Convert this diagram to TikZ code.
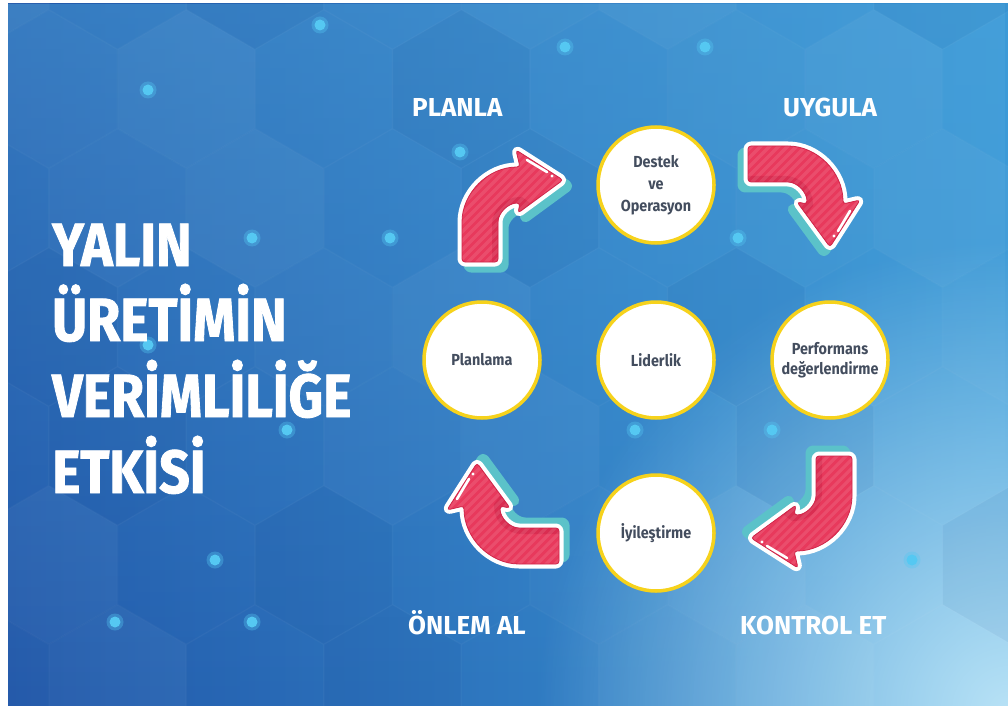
\documentclass[tikz,border=0pt]{standalone}
\usepackage{fontspec}
\setmainfont{Fira Sans}
\newfontfamily\titlefont{Fira Sans}[FakeStretch=0.88,FakeBold=1.4]
\newfontfamily\circfont{Fira Sans}[FakeStretch=0.9]
\usetikzlibrary{fadings}

\definecolor{bgleft}{HTML}{2157A9}
\definecolor{bgright}{HTML}{3C9AD7}
\definecolor{bglow}{HTML}{4FA6DD}
\definecolor{bgglow}{HTML}{B8E2F6}
\definecolor{hexdark}{HTML}{0B3A82}
\definecolor{arrowred}{HTML}{E8395C}
\definecolor{arrowdark}{HTML}{CF2448}
\definecolor{shadowteal}{HTML}{5BC2C9}
\definecolor{ringyellow}{HTML}{F6D21C}
\definecolor{inktext}{HTML}{434D5E}
\definecolor{dotcyan}{HTML}{55C8F2}

\tikzfading[name=glowfade, inner color=transparent!0, outer color=transparent!100]

% outline of one bent arrow (leg up, bend to the right, head pointing right)
\def\arrowpath{(462,262) -- (462,225) .. controls (462,193) and (488,167) .. (520,167)
  -- (516,150) -- (563,180) -- (518,213) -- (520,203)
  .. controls (508,203) and (498,213) .. (498,225) -- (498,262) -- cycle}

% #1 rotation about the centre, #2 extra shift, #3 stripe direction (+1/-1)
\newcommand\cyclearrow[3]{%
  \begin{scope}[shift={#2}, rotate around={#1:(656,360)}]
    \filldraw[shadowteal, line width=9, line join=round, arrowshape, shift={(6,6)}] \arrowpath;
    \filldraw[white, line width=9, line join=round, arrowshape] \arrowpath;
    \fill[arrowred, arrowshape] \arrowpath;
    \begin{scope}
      \clip[arrowshape] \arrowpath;
      \draw[arrowdark, line width=12, opacity=.55]
        (498,275) -- (498,225) .. controls (498,213) and (508,203) .. (520,203) -- (532,212);
      \foreach \k in {-240,-231,...,240}
        \draw[white, opacity=.10, line width=3.2]
          ({400+\k},{200-100*(#3)}) -- ++(200,{200*(#3)});
    \end{scope}
    \draw[arrowdark, line width=.8, arrowshape] \arrowpath;
    \draw[white, line width=2.6, line cap=round] (527,160) -- (547,172);
    \fill[white] (552,176) circle (1.7);
  \end{scope}}

\begin{document}
\begin{tikzpicture}[x=1pt, y=-1pt,
  arrowshape/.style={rounded corners=3},
  ringnode/.style={circle, draw=ringyellow, line width=3.5, fill=white,
    minimum size=116, inner sep=0, align=center, text=inktext,
    font=\circfont\bfseries\fontsize{16}{22}\selectfont},
  steplabel/.style={anchor=base west, inner sep=0, text=white,
    font=\bfseries\fontsize{26}{26}\selectfont},
  titleline/.style={anchor=base west, inner sep=0, text=white,
    font=\titlefont\bfseries\fontsize{61}{61}\selectfont},
  hexcell/.style={line width=1, draw=white, draw opacity=.025}]

\useasboundingbox (0,0) rectangle (1008,711);
\fill[white] (0,0) rectangle (1008,711);

% background panel
\begin{scope}
  \clip (8,4) rectangle (1008,705);
  \shade[left color=bgleft, right color=bgright] (8,4) rectangle (1008,705);
  \fill[bglow, opacity=.45, path fading=south] (8,4) rectangle (1008,705);
  \fill[bgglow, path fading=glowfade] (1008,711) circle (470);

  % hexagon pattern
  \foreach \j in {0,...,6} {
    \foreach \i in {0,...,8} {
      \pgfmathsetmacro\cx{-20+\i*137.5+mod(\j,2)*68.75}
      \pgfmathsetmacro\cy{-30+\j*119}
      \pgfmathtruncatemacro\pick{mod(\i*3+\j*2,5)}
      \ifcase\pick
        \filldraw[hexcell, fill=white, fill opacity=.04, shift={(\cx,\cy)}]
          (30:79) -- (90:79) -- (150:79) -- (210:79) -- (270:79) -- (330:79) -- cycle;
      \or
        \filldraw[hexcell, fill=hexdark, fill opacity=.06, shift={(\cx,\cy)}]
          (30:79) -- (90:79) -- (150:79) -- (210:79) -- (270:79) -- (330:79) -- cycle;
      \or
        \filldraw[hexcell, fill=white, fill opacity=.02, shift={(\cx,\cy)}]
          (30:79) -- (90:79) -- (150:79) -- (210:79) -- (270:79) -- (330:79) -- cycle;
      \else
        \draw[hexcell, shift={(\cx,\cy)}]
          (30:79) -- (90:79) -- (150:79) -- (210:79) -- (270:79) -- (330:79) -- cycle;
      \fi
    }
  }

  % glowing dots
  \foreach \p in {(320,25),(565,47),(705,47),(148,90),(460,152),(252,238),(390,238),
                  (738,238),(148,345),(287,430),(635,430),(772,430),(215,560),
                  (912,560),(115,622),(252,622)} {
    \fill[dotcyan, opacity=.35] \p circle (8.5);
    \fill[dotcyan] \p circle (5.5);
  }
\end{scope}

% title
\node[titleline] (t1) at (52,266) {YALIN};
\node[titleline] (t2) at (52,341) {ÜRETİMİN};
\node[titleline] (t3) at (52,417) {VERİMLİLİĞE};
\node[titleline] (t4) at (52,493) {ETKİSİ};

% cycle arrows
\cyclearrow{0}{(0,0)}{-1}
\cyclearrow{-90}{(-6,-20)}{1}
\cyclearrow{180}{(2,-2)}{-1}
\cyclearrow{90}{(1,10)}{1}

% step circles
\node[ringnode] (destek) at (656,185) {Destek\\ve\\Operasyon};
\node[ringnode] (planlama) at (482,360) {Planlama};
\node[ringnode] (liderlik) at (656,360) {Liderlik};
\node[ringnode, font=\circfont\bfseries\fontsize{16}{20}\selectfont] (perf) at (830,360) {Performans\\değerlendirme};
\node[ringnode] (iyilestirme) at (656,533) {İyileştirme};

% phase labels
\node[steplabel] (planla) at (412,117) {PLANLA};
\node[steplabel] (uygula) at (783,117) {UYGULA};
\node[steplabel] (onlem) at (408,634) {ÖNLEM AL};
\node[steplabel] (kontrol) at (740,634) {KONTROL ET};

\end{tikzpicture}
\end{document}
